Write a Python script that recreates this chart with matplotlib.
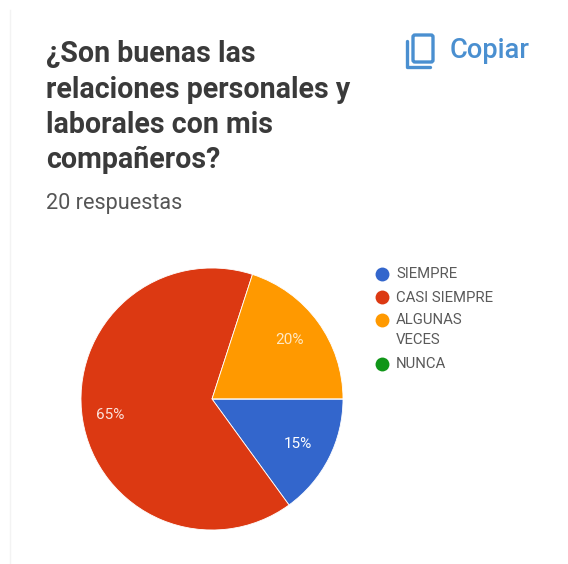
import matplotlib.pyplot as plt
from matplotlib.patches import FancyBboxPatch

plt.rcParams['font.family'] = ['Roboto', 'DejaVu Sans']

labels = ['SIEMPRE', 'CASI SIEMPRE', 'ALGUNAS\nVECES', 'NUNCA']
values = [15, 65, 20, 0]
colors = ['#3366cc', '#dc3912', '#ff9900', '#109618']
pct_labels = ['15%', '65%', '20%']
title_lines = ['¿Son buenas las', 'relaciones personales y', 'laborales con mis', 'compañeros?']

fig = plt.figure(figsize=(5.68, 5.64), dpi=100)
# axes in pixel units, y pointing down
ax = fig.add_axes([0, 0, 1, 1])

# card edge
ax.plot([10, 10], [10, 564], color='#f3f3f3', lw=1)

for i, line in enumerate(title_lines):
    ax.text(46, 62.5 + i * 35.2, line, fontsize=20.6, fontweight='bold', color='#3a3a3a',
            va='baseline', ha='left')
ax.text(46, 209.5, '20 respuestas', fontsize=15.6, color='#555555', va='baseline', ha='left')

# copy icon
ax.add_patch(FancyBboxPatch((413, 35), 20, 27, boxstyle='round,pad=0,rounding_size=2',
                            fill=False, ec='#4a8fd0', lw=2.4))
ax.plot([407, 407, 430], [41, 67, 67], color='#4a8fd0', lw=2.4, solid_capstyle='round')
ax.text(450, 58.5, 'Copiar', fontsize=19.6, fontweight='medium', color='#4a8fd0',
        va='baseline', ha='left')

# pie: y axis is flipped so counterclock=True runs clockwise on screen
wedges, _ = ax.pie(values, colors=colors, startangle=0, counterclock=True,
                   center=(212, 399), radius=131, frame=True,
                   wedgeprops={'edgecolor': 'white', 'linewidth': 0.6})
ax.set_xlim(0, 568)
ax.set_ylim(564, 0)
ax.set_aspect('auto')
ax.axis('off')

ax.text(298, 444, pct_labels[0], fontsize=11, color='white', ha='center', va='center')
ax.text(110, 415, pct_labels[1], fontsize=11, color='#fbe3dc', ha='center', va='center')
ax.text(290, 340, pct_labels[2], fontsize=11, color='#ffe9c4', ha='center', va='center')

# legend
marker_y = [274, 297, 320, 364]
for lab, col, my in zip(labels, colors, marker_y):
    ax.scatter([382], [my], s=100, color=col, zorder=3, linewidths=0)
    for j, part in enumerate(lab.split('\n')):
        ax.text(396, my + 4.5 + j * 20, part, fontsize=10.7, color='#5a5a5a', va='baseline', ha='left')

fig.savefig('out.png', dpi=100)
